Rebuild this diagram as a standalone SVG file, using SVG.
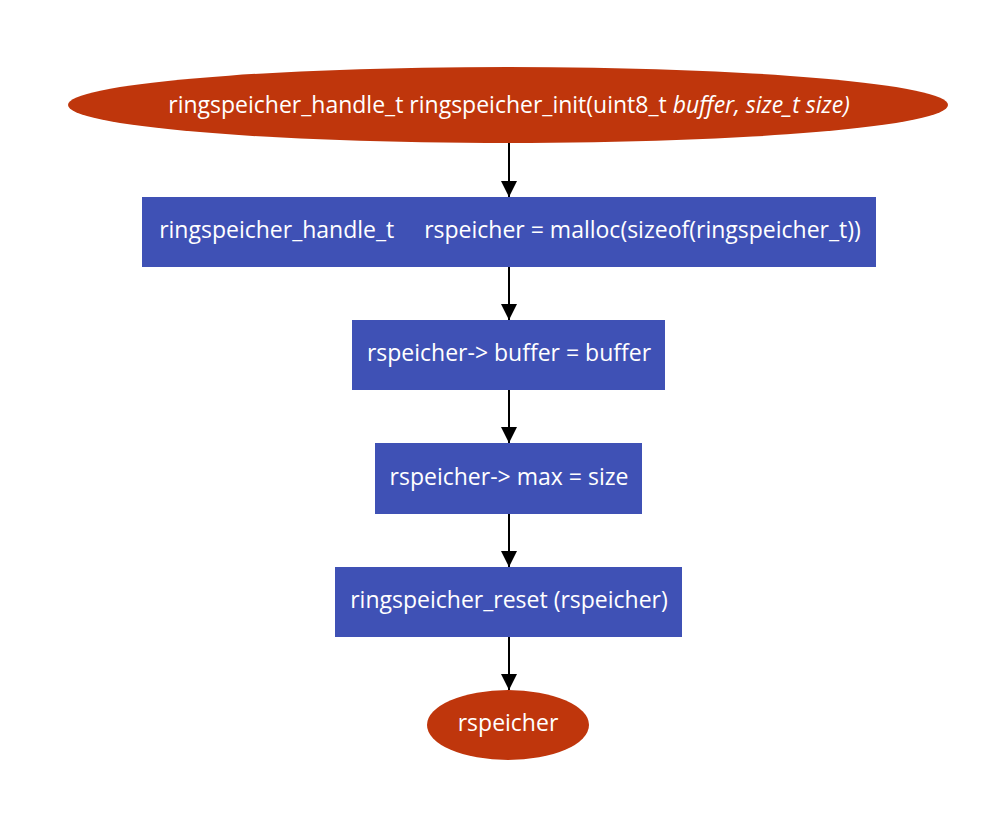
<svg xmlns="http://www.w3.org/2000/svg" width="1001" height="824" viewBox="0 0 1001 824">
<style>
.t{font-family:"Open Sans","Noto Sans",sans-serif;font-size:23px;fill:#ffffff;text-anchor:middle}
.box{fill:#3f51b5}
.term{fill:#bf360c}
.e{stroke:#000;stroke-width:2;fill:none;marker-end:url(#ah)}
</style>
<defs>
<marker id="ah" markerUnits="userSpaceOnUse" markerWidth="16" markerHeight="20" refX="16" refY="8" orient="auto">
<path d="M0,0 L16,8 L0,16 Z" fill="#000"/>
</marker>
</defs>
<rect width="1001" height="824" fill="#fff"/>
<g id="edges">
<line class="e" x1="509" y1="143" x2="509" y2="197"/>
<line class="e" x1="509" y1="267" x2="509" y2="320"/>
<line class="e" x1="509" y1="390" x2="509" y2="443"/>
<line class="e" x1="509" y1="514" x2="509" y2="567"/>
<line class="e" x1="509" y1="637" x2="509" y2="690"/>
</g>
<g id="start">
<ellipse class="term" cx="508" cy="105" rx="440" ry="38"/>
<text class="t" x="509" y="113">ringspeicher_handle_t ringspeicher_init(uint8_t <tspan font-style="italic">buffer, size_t size)</tspan></text>
</g>
<g id="n1">
<rect class="box" x="142" y="197" width="734" height="70"/>
<text class="t" x="510" y="238" xml:space="preserve">ringspeicher_handle_t     rspeicher = malloc(sizeof(ringspeicher_t))</text>
</g>
<g id="n2">
<rect class="box" x="352" y="320" width="313" height="70"/>
<text class="t" x="509" y="361">rspeicher-&gt; buffer = buffer</text>
</g>
<g id="n3">
<rect class="box" x="375" y="443" width="267" height="71"/>
<text class="t" x="509" y="485">rspeicher-&gt; max = size</text>
</g>
<g id="n4">
<rect class="box" x="335" y="567" width="347" height="70"/>
<text class="t" x="509" y="608">ringspeicher_reset (rspeicher)</text>
</g>
<g id="end">
<ellipse class="term" cx="508" cy="725" rx="81" ry="35"/>
<text class="t" x="508" y="731">rspeicher</text>
</g>
</svg>
